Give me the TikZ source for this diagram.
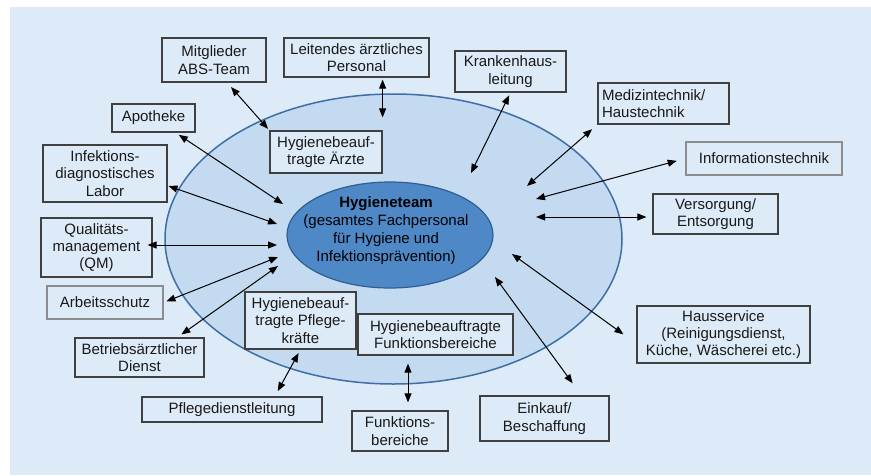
\documentclass[tikz,border=0pt]{standalone}
\usepackage{fontspec}
\setmainfont{Liberation Sans}
\usetikzlibrary{arrows.meta}
\definecolor{bgblue}{HTML}{DDEAF7}
\definecolor{ringblue}{HTML}{C4DAF0}
\definecolor{ringline}{HTML}{3D6FA6}
\definecolor{hubblue}{HTML}{4F88C7}
\definecolor{hubline}{HTML}{2F5E93}
\definecolor{boxline}{HTML}{404040}
\tikzset{
  box/.style={draw=boxline, fill=bgblue, line width=1.2pt, inner sep=2pt, align=center, text=black!90},
  greybox/.style={box, draw=black!45},
  link/.style={line width=1pt, >={Triangle[length=9pt,width=7pt]}, <->}
}
\begin{document}
\begin{tikzpicture}[x=1pt, y=-1pt, font=\fontsize{15}{17.3}\selectfont]
\useasboundingbox (0,0) rectangle (871,475);
\fill[white] (0,0) rectangle (871,475);
\fill[bgblue] (10,7) rectangle (871,475);
\draw[fill=ringblue, draw=ringline, line width=1.5pt] (393.5,239) ellipse [x radius=228.5, y radius=145];
\draw[fill=hubblue, draw=hubline, line width=1.2pt] (390,235) ellipse [x radius=103, y radius=53];
\node[align=center, font=\fontsize{15}{18}\selectfont] (team) at (386,231) {\textbf{Hygieneteam}\\(gesamtes Fachpersonal\\für Hygiene und\\Infektionsprävention)};

\node[box, minimum width=104, minimum height=44] (mitglieder) at (214,60) {Mitglieder\\ABS-Team};
\node[box, minimum width=145, minimum height=39] (leitend) at (356.5,57.5) {Leitendes ärztliches\\Personal};
\node[box, minimum width=83, minimum height=28] (apotheke) at (153.5,118) {Apotheke};
\node[box, minimum width=124, minimum height=57] (labor) at (105,173.5) {Infektions-\\diagnostisches\\Labor};
\node[box, minimum width=112, minimum height=42] (aerzte) at (326,152) {Hygienebeauf-\\tragte Ärzte};
\node[box, minimum width=111, minimum height=41] (krankenhaus) at (510.5,71.5) {Krankenhaus-\\leitung};
\node[box, text width=123, align=left, inner sep=4pt, minimum height=41] (medizin) at (663.5,103.5) {Medizintechnik/\\Haustechnik};
\node[greybox, minimum width=156, minimum height=33] (info) at (764,158.5) {Informationstechnik};
\node[box, minimum width=125, minimum height=40] (versorgung) at (715.5,214) {Versorgung/\\Entsorgung};
\node[box, minimum width=111, minimum height=59] (qm) at (96.5,247.5) {Qualitäts-\\management\\(QM)};
\node[greybox, minimum width=116, minimum height=33] (arbeit) at (105,302.5) {Arbeitsschutz};
\node[box, minimum width=129, minimum height=39] (betrieb) at (139.5,357.5) {Betriebsärztlicher\\Dienst};
\node[box, minimum width=111, minimum height=57] (pflegekr) at (300.5,320.5) {Hygienebeauf-\\tragte Pflege-\\kräfte};
\node[box, minimum width=180, minimum height=25] (pflegedl) at (232,409.5) {Pflegedienstleitung};
\node[box, minimum width=155, minimum height=41] (funktbea) at (435.5,334.5) {Hygienebeauftragte\\Funktionsbereiche};
\node[box, minimum width=96, minimum height=40] (funkt) at (400,431) {Funktions-\\bereiche};
\node[box, minimum width=173, minimum height=57] (hausservice) at (723.5,334.5) {Hausservice\\(Reinigungsdienst,\\Küche, Wäscherei etc.)};
\node[box, minimum width=129, minimum height=45] (einkauf) at (544.5,418.5) {Einkauf/\\Beschaffung};

\coordinate (hApo) at (283,204);
\coordinate (hLab) at (277,224);
\coordinate (hQM) at (277,245);
\coordinate (hArb) at (278,257);
\coordinate (hBet) at (278,266);
\coordinate (hKh) at (471,173);
\coordinate (hMed) at (527,186);
\coordinate (hInf) at (536,199);
\coordinate (hVer) at (536,217);
\coordinate (hHaus) at (512,254);
\coordinate (hEink) at (495,277);
\coordinate (fk) at ([xshift=8pt]funkt.north);

\draw[link, shorten <=6, shorten >=2] (mitglieder.-60) -- (aerzte.north west);
\draw[link, shorten <=2, shorten >=13] (leitend.south -| aerzte.north east) -- (aerzte.north east);
\draw[link, shorten <=4] (apotheke) -- (hApo);
\draw[link, shorten <=1] (labor.-11) -- (hLab);
\draw[link, shorten <=-5] (qm.east |- hQM) -- (hQM);
\draw[link, shorten <=3] (arbeit.east) -- (hArb);
\draw[link, shorten <=5] (betrieb.28) -- (hBet);
\draw[link, shorten <=4, shorten >=6] (pflegekr.south) -- (pflegedl.17);
\draw[link, shorten <=8, shorten >=8] (fk) -- (fk |- funktbea.south);
\draw[link, shorten <=3] (krankenhaus.south) -- (hKh);
\draw[link, shorten <=7] (medizin.south west) -- (hMed);
\draw[link, shorten <=9] (info.west) -- (hInf);
\draw[link, shorten <=6] (versorgung.west |- hVer) -- (hVer);
\draw[link, shorten >=16] (hHaus) -- (hausservice.-174);
\draw[link, shorten >=15] (hEink) -- (einkauf.32);
\end{tikzpicture}
\end{document}
